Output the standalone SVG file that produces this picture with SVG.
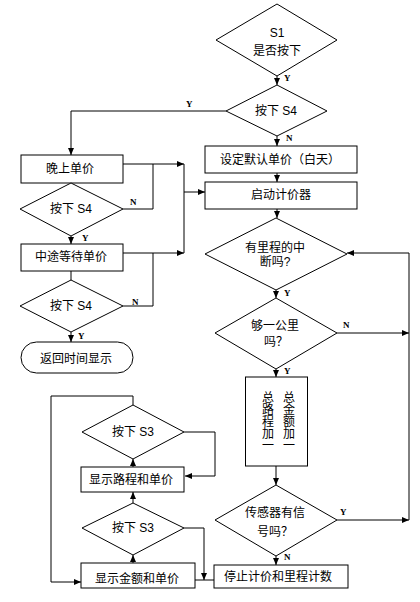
<svg xmlns="http://www.w3.org/2000/svg" width="420" height="602" viewBox="0 0 420 602">
<style>
.n{fill:#fff;stroke:#000;stroke-width:1}
.t{font-family:"Liberation Sans","Noto Sans CJK SC",sans-serif;font-size:12px;fill:#000;text-anchor:middle}
.v{font-family:"Noto Sans CJK SC",sans-serif;font-size:12px;fill:#000;text-anchor:middle;writing-mode:vertical-rl}
.l{font-family:"Liberation Serif",serif;font-weight:bold;font-size:9px;fill:#000}
.c{fill:none;stroke:#000;stroke-width:1}
</style>
<defs>
<marker id="ah" viewBox="0 0 7 6" refX="7" refY="3" markerWidth="7" markerHeight="6" orient="auto" markerUnits="userSpaceOnUse"><path d="M0,0 L7,3 L0,6 z" fill="#000"/></marker>
</defs>
<rect width="420" height="602" fill="#fff"/>
<g id="connectors">
<path class="c" d="M277,76 V85" marker-end="url(#ah)"/>
<path class="c" d="M277,136 V146" marker-end="url(#ah)"/>
<path class="c" d="M226,111 H71 V155" marker-end="url(#ah)"/>
<path class="c" d="M277,173 V182" marker-end="url(#ah)"/>
<path class="c" d="M277,209 V218" marker-end="url(#ah)"/>
<path class="c" d="M276,290 V298" marker-end="url(#ah)"/>
<path class="c" d="M276,369 V377" marker-end="url(#ah)"/>
<path class="c" d="M276,466 V485" marker-end="url(#ah)"/>
<path class="c" d="M276,556 V565" marker-end="url(#ah)"/>
<path class="c" d="M337,333 H409" marker-end="url(#ah)"/>
<path class="c" d="M337,520 H409" marker-end="url(#ah)"/>
<path class="c" d="M409,520 V253 H347" marker-end="url(#ah)"/>
<path class="c" d="M123,164 H184" marker-end="url(#ah)"/>
<path class="c" d="M123,209 H153 V164"/>
<path class="c" d="M123,253 H184" marker-end="url(#ah)"/>
<path class="c" d="M123,306 H153 V253"/>
<path class="c" d="M184,164 V253"/>
<path class="c" d="M184,192 H205" marker-end="url(#ah)"/>
<path class="c" d="M71,236 V244" marker-end="url(#ah)"/>
<path class="c" d="M71,271 V280"/>
<path class="c" d="M71,332 V342" marker-end="url(#ah)"/>
<path class="c" d="M133,405 V396 H51 V582 H81" marker-end="url(#ah)"/>
<path class="c" d="M184,432 H215 V476 H185" marker-end="url(#ah)"/>
<path class="c" d="M133,467 V459" marker-end="url(#ah)"/>
<path class="c" d="M133,503 V492" marker-end="url(#ah)"/>
<path class="c" d="M133,563 V555" marker-end="url(#ah)"/>
<path class="c" d="M184,528 H204 V580" marker-end="url(#ah)"/>
<path class="c" d="M195,580 H214"/>
<text class="l" x="284" y="81">Y</text>
<text class="l" x="286" y="141">N</text>
<text class="l" x="186" y="107">Y</text>
<text class="l" x="130" y="205">N</text>
<text class="l" x="82" y="241">Y</text>
<text class="l" x="132" y="305">N</text>
<text class="l" x="78" y="339">Y</text>
<text class="l" x="284" y="296">Y</text>
<text class="l" x="343" y="328">N</text>
<text class="l" x="284" y="374">Y</text>
<text class="l" x="340" y="515">Y</text>
<text class="l" x="284" y="560">N</text>
</g>
<g id="s1">
<polygon class="n" points="277,4 337,40 277,76 216,40"/>
<text class="t" x="277" y="37">S1</text>
<text class="t" x="277" y="55">是否按下</text>
</g>
<g id="s4a">
<polygon class="n" points="277,85 327,111 277,136 226,111"/>
<text class="t" x="276" y="115">按下 S4</text>
</g>
<g id="default">
<rect class="n" x="205" y="146" width="152" height="27"/>
<text class="t" x="280" y="164">设定默认单价（白天）</text>
</g>
<g id="start">
<rect class="n" x="205" y="182" width="152" height="27"/>
<text class="t" x="281" y="199">启动计价器</text>
</g>
<g id="interrupt">
<polygon class="n" points="276,218 347,254 276,290 205,254"/>
<text class="t" x="275" y="252">有里程的中</text>
<text class="t" x="275" y="266">断吗?</text>
</g>
<g id="km">
<polygon class="n" points="276,298 337,333 276,369 215,333"/>
<text class="t" x="275" y="330">够一公里</text>
<text class="t" x="276" y="346">吗？</text>
</g>
<g id="add">
<rect class="n" x="245.5" y="377" width="62" height="89"/>
<text class="v" x="289" y="421">总金额加一</text>
<text class="v" x="268" y="421">总路程加一</text>
</g>
<g id="sensor">
<polygon class="n" points="276,485 337,520 276,556 215,520"/>
<text class="t" x="275" y="517">传感器有信</text>
<text class="t" x="275" y="536">号吗？</text>
</g>
<g id="stop">
<rect class="n" x="214" y="565" width="134" height="23"/>
<text class="t" x="278" y="581">停止计价和里程计数</text>
</g>
<g id="night">
<rect class="n" x="21" y="155" width="102" height="28"/>
<text class="t" x="70" y="173">晚上单价</text>
</g>
<g id="s4b">
<polygon class="n" points="71,183 123,209 71,236 20,209"/>
<text class="t" x="71" y="213">按下 S4</text>
</g>
<g id="wait">
<rect class="n" x="21" y="244" width="102" height="27"/>
<text class="t" x="71" y="261">中途等待单价</text>
</g>
<g id="s4c">
<polygon class="n" points="71,280 123,306 71,332 20,306"/>
<text class="t" x="71" y="310">按下 S4</text>
</g>
<g id="back">
<rect class="n" x="21" y="342" width="112" height="31" rx="15.5" ry="15.5"/>
<text class="t" x="76" y="363">返回时间显示</text>
</g>
<g id="s3a">
<polygon class="n" points="133,405 184,432 133,459 82,432"/>
<text class="t" x="133" y="436">按下  S3</text>
</g>
<g id="route">
<rect class="n" x="81" y="467" width="103" height="25"/>
<text class="t" x="131" y="484">显示路程和单价</text>
</g>
<g id="s3b">
<polygon class="n" points="133,503 184,528 133,555 82,528"/>
<text class="t" x="133" y="532">按下  S3</text>
</g>
<g id="amount">
<rect class="n" x="81" y="563" width="114" height="25"/>
<text class="t" x="137" y="583">显示金额和单价</text>
</g>
</svg>
